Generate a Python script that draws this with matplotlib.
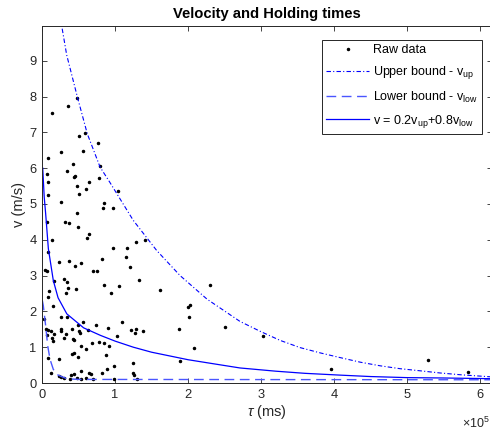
import numpy as np
import matplotlib
matplotlib.use('Agg')
import matplotlib.pyplot as plt
from matplotlib.ticker import FuncFormatter

plt.rcParams['font.family'] = ['Liberation Sans', 'DejaVu Sans']
plt.rcParams['mathtext.fontset'] = 'custom'
plt.rcParams['mathtext.rm'] = 'Liberation Sans'
plt.rcParams['mathtext.it'] = 'Liberation Sans:italic'
plt.rcParams['mathtext.bf'] = 'Liberation Sans:bold'

# raw data, tau in units of 1e5 ms, v in m/s
tau_raw = [0.475, 0.36, 0.133, 0.51, 0.59, 0.77, 0.566, 0.256, 0.078, 0.42,
           0.795, 0.342, 0.064, 0.456, 0.438, 0.785, 0.087, 0.64, 0.484, 0.607,
           1.037, 0.51, 0.078, 0.256, 0.854, 0.83, 0.977, 0.484,
           0.064, 0.32, 0.374, 0.489, 0.64, 0.612, 0.133, 1.41, 1.28, 0.082,
           0.97, 1.16, 1.15, 0.82, 0.237, 0.366, 0.534, 0.448, 1.21, 0.041,
           0.068, 0.694, 0.749, 0.306, 1.33, 0.347, 0.16, 0.849, 1.055, 2.3,
           0.092, 0.36, 0.47, 1.61, 0.95, 0.325, 0.078, 0.146, 2.0, 2.03,
           2.01, 0.264, 0.342, 0.023, 1.09, 0.566, 0.497, 0.735, 2.51, 1.88,
           0.904, 1.29, 1.22, 1.38, 1.27, 0.05, 0.078, 0.118, 0.26, 0.264,
           0.41, 0.51, 0.63, 0.325, 0.064, 0.16, 0.141, 0.155, 0.306, 0.42,
           0.434, 0.52, 1.02, 0.777, 0.854, 0.685, 0.918, 0.534, 0.607, 2.08,
           0.438, 0.41, 0.872, 0.493, 0.078, 0.229, 1.24, 1.89, 0.886, 0.99,
           0.123, 0.534, 0.648, 0.671, 0.82, 1.24, 1.26, 0.229, 0.26, 0.306,
           0.393, 0.443, 0.484, 0.534, 0.598, 0.694, 0.99, 1.3, 0.388,
           3.03, 3.96, 5.28, 5.83]
v_raw = [7.96, 7.73, 7.53, 6.9, 6.98, 6.69, 6.48, 6.44, 6.27, 6.11,
         6.06, 5.93, 5.84, 5.79, 5.75, 5.73, 5.62, 5.62, 5.51, 5.41,
         5.35, 5.28, 5.25, 5.06, 5.04, 4.89, 4.9, 4.75,
         4.51, 4.5, 4.47, 4.35, 4.16, 4.06, 3.99, 4.0, 3.95, 3.67,
         3.78, 3.78, 3.52, 3.46, 3.39, 3.41, 3.34, 3.28, 3.25, 3.15,
         3.12, 3.12, 3.12, 2.9, 2.89, 2.83, 2.84, 2.75, 2.7, 2.75,
         2.58, 2.64, 2.62, 2.59, 2.51, 2.5, 2.39, 2.15, 2.12, 2.19,
         1.83, 1.83, 1.83, 1.78, 1.71, 1.69, 1.63, 1.61, 1.57, 1.52,
         1.53, 1.52, 1.47, 1.46, 1.41, 1.52, 1.48, 1.46, 1.52, 1.44,
         1.5, 1.46, 1.48, 1.36, 1.34, 1.36, 1.25, 1.18, 1.25, 1.22,
         1.2, 1.41, 1.3, 1.15, 1.12, 1.12, 1.04, 1.02, 0.94, 0.97,
         0.85, 0.8, 0.78, 0.73, 0.69, 0.66, 0.55, 0.61, 0.4, 0.48,
         0.27, 0.33, 0.29, 0.25, 0.27, 0.29, 0.23, 0.2, 0.18, 0.15,
         0.22, 0.25, 0.15, 0.12, 0.15, 0.12, 0.12, 0.12, 0.12,
         1.3, 0.4, 0.63, 0.31]

# upper bound
tau_up = [0.2, 0.27, 0.338, 0.484, 0.62, 0.795, 0.93, 1.25, 1.57, 1.89,
          2.26, 2.71, 2.99, 3.26, 3.53, 3.81, 4.08, 4.36, 4.63, 4.9,
          5.18, 5.45, 5.73, 6.16]
v_up = [11.0, 9.97, 9.16, 7.99, 6.96, 6.03, 5.6, 4.54, 3.7, 3.0,
        2.34, 1.72, 1.44, 1.19, 0.99, 0.84, 0.71, 0.58, 0.48, 0.4,
        0.34, 0.28, 0.23, 0.17]

# lower bound
tau_low = [0.005, 0.018, 0.05, 0.078, 0.11, 0.155, 0.22, 0.34, 0.5, 6.16]
v_low = [2.3, 2.16, 1.6, 1.04, 0.66, 0.38, 0.22, 0.12, 0.1, 0.09]

# v = 0.2 v_up + 0.8 v_low
tau_mix = [0.01, 0.03, 0.05, 0.087, 0.155, 0.22, 0.34, 0.57, 0.8, 1.0,
           1.25, 1.5, 2.0, 2.4, 2.71, 3.2, 3.6, 4.08, 4.5, 5.0, 5.5, 6.16]
v_mix = [6.0, 5.2, 4.73, 3.75, 2.86, 2.38, 1.93, 1.54, 1.33, 1.17,
         1.0, 0.86, 0.65, 0.52, 0.42, 0.33, 0.27, 0.22, 0.18, 0.15, 0.14, 0.12]

scale = 1e5

fig = plt.figure(figsize=(4.9, 4.3), dpi=100)
ax = fig.add_axes([42/490, 47/430, 450/490, 357/430])

ax.plot(np.array(tau_raw)*scale, v_raw, 'o', color='k', markersize=1.5, linestyle='none', label='Raw data')
ax.plot(np.array(tau_up)*scale, v_up, color='#0000ff', linestyle='-.', linewidth=0.8,
        dashes=(4, 2, 1, 2), label=r'Upper bound - v$_{\mathrm{up}}$')
ax.plot(np.array(tau_low)*scale, v_low, color='#4a55ff', linestyle='--', linewidth=1.0,
        dashes=(7, 4), label=r'Lower bound - v$_{\mathrm{low}}$')
ax.plot(np.array(tau_mix)*scale, v_mix, color='#0000ff', linestyle='-', linewidth=0.9,
        label=r'v = 0.2v$_{\mathrm{up}}$+0.8v$_{\mathrm{low}}$')

ax.set_xlim(0, 6.16e5)
ax.set_ylim(0, 9.97)
ax.set_xticks(np.arange(0, 7)*scale)
ax.set_yticks(range(0, 10))
ax.xaxis.set_major_formatter(FuncFormatter(lambda x, p: '%g' % (x/scale)))

gray = '#262626'
for s in ax.spines.values():
    s.set_color(gray)
    s.set_linewidth(0.7)
ax.tick_params(direction='in', top=True, right=True, length=3.5, width=0.6,
               colors=gray, labelsize=9.3, pad=4)

ax.set_xlabel(r'$\tau$ (ms)', fontsize=10.5, color=gray, labelpad=2)
ax.set_ylabel('v (m/s)', fontsize=10.5, color=gray, labelpad=2)
ax.set_title('Velocity and Holding times', fontsize=10.6, fontweight='bold', pad=6)
# exponent label, as in the original it sits under the right end of the axis
fig.text(0.999, 1-423/430, r'$\times$10$^{5}$', fontsize=9, color=gray,
         ha='right', va='center')

leg = ax.legend(loc='upper right', bbox_to_anchor=(482/490, 1-40/430),
                bbox_transform=fig.transFigure, fontsize=9, fancybox=False,
                framealpha=1, edgecolor=gray, handlelength=3.4, borderaxespad=0,
                labelspacing=0.65, handletextpad=0.3, borderpad=0.35)
leg.get_frame().set_linewidth(0.7)

plt.savefig('out.png', dpi=100)
plt.close()
print('Done!')
